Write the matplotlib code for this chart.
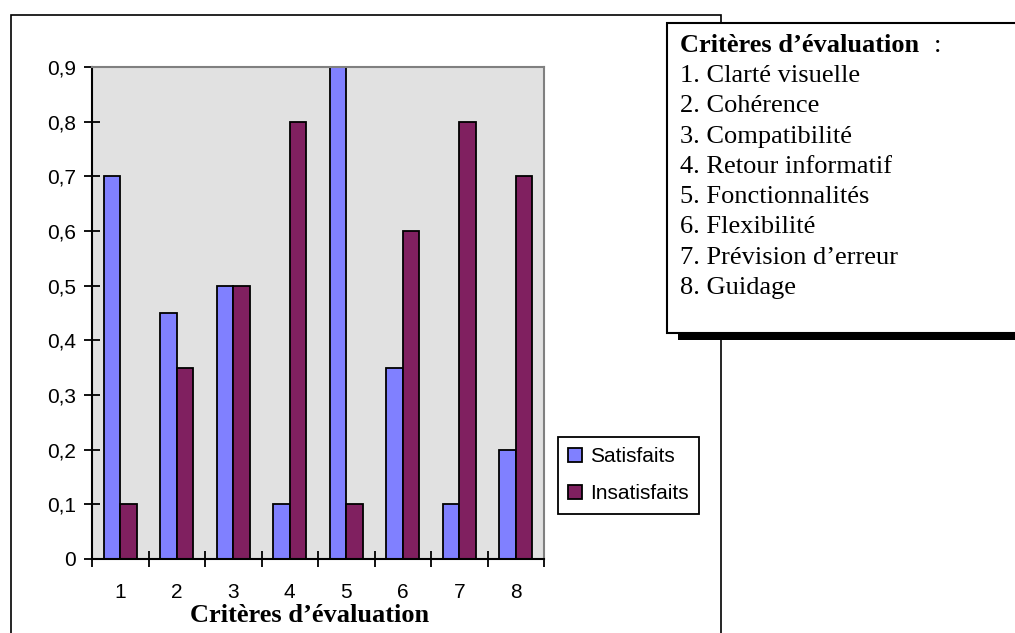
#!/usr/bin/env python3

import matplotlib
matplotlib.use('Agg')
import matplotlib.pyplot as plt
from matplotlib.patches import Rectangle
import numpy

# survey results per evaluation criterion
criteria = ['1', '2', '3', '4', '5', '6', '7', '8']
criteria_names = ['Clarté visuelle', 'Cohérence', 'Compatibilité',
                  'Retour informatif', 'Fonctionnalités', 'Flexibilité',
                  'Prévision d’erreur', 'Guidage']
satisfaits = [0.7, 0.45, 0.5, 0.1, 0.9, 0.35, 0.1, 0.2]
insatisfaits = [0.1, 0.35, 0.5, 0.8, 0.1, 0.6, 0.8, 0.7]
yticks = [0.0, 0.1, 0.2, 0.3, 0.4, 0.5, 0.6, 0.7, 0.8, 0.9]


def main():
  W, H = 1015, 633
  fig = plt.figure(figsize=(W / 100, H / 100), dpi=100)

  def px(x0, y0, x1, y1):
    # pixel box (top-left origin) to figure fraction rect
    return [x0 / W, 1 - y1 / H, (x1 - x0) / W, (y1 - y0) / H]

  # outer chart frame
  frame = Rectangle((11 / W, -0.1), (721 - 11) / W, 1.1 - 15 / H,
                    transform=fig.transFigure, fill=False,
                    edgecolor='black', linewidth=1.2, zorder=0)
  fig.patches.append(frame)

  #############################################################################
  # Bars
  #############################################################################
  ax = fig.add_axes(px(92, 67, 544, 559))
  ax.set_facecolor('#e1e1e1')
  x = numpy.arange(len(criteria))
  w = 0.29
  ax.bar(x - w / 2, satisfaits, w, color='#8080ff', edgecolor='black',
         linewidth=1.3, label='Satisfaits', zorder=2)
  ax.bar(x + w / 2, insatisfaits, w, color='#802060', edgecolor='black',
         linewidth=1.3, label='Insatisfaits', zorder=2)

  ax.set_xlim(-0.5, len(criteria) - 0.5)
  ax.set_ylim(0, 0.9)
  ax.set_yticks(yticks)
  ax.set_yticklabels([('%g' % v).replace('.', ',') for v in yticks],
                     fontsize=15, family='Liberation Sans')
  ax.set_xticks(x)
  ax.set_xticklabels(criteria, fontsize=15, family='Liberation Sans')
  ax.set_xticks(numpy.arange(len(criteria) + 1) - 0.5, minor=True)
  ax.tick_params(axis='x', which='major', length=0, pad=17)
  ax.tick_params(axis='x', which='minor', direction='inout', length=11,
                 width=1.3)
  ax.tick_params(axis='y', direction='inout', length=11, width=1.3, pad=6)

  for side in ['left', 'bottom']:
    ax.spines[side].set_linewidth(1.5)
    ax.spines[side].set_color('black')
  for side in ['top', 'right']:
    ax.spines[side].set_linewidth(1.5)
    ax.spines[side].set_color('#808080')

  fig.text(310 / W, 1 - 615 / H, 'Critères d’évaluation', ha='center',
           va='center', fontsize=19, fontweight='bold',
           family='Liberation Serif')

  leg = ax.legend(loc='upper left', bbox_to_anchor=(558 / W, 1 - 437 / H),
                  bbox_transform=fig.transFigure,
                  prop={'family': 'Liberation Sans', 'size': 15},
                  frameon=True, fancybox=False, edgecolor='black',
                  framealpha=1, borderaxespad=0,
                  handlelength=0.67, handleheight=0.67, handletextpad=0.35,
                  labelspacing=0.85, borderpad=0.5)
  leg.get_frame().set_linewidth(1.3)

  #############################################################################
  # Criteria list box
  #############################################################################
  shadow = Rectangle((678 / W, 1 - 340 / H), 0.5, (340 - 30) / H,
                     transform=fig.transFigure, facecolor='black',
                     edgecolor='none', zorder=5)
  box = Rectangle((667 / W, 1 - 333 / H), 0.5, (333 - 23) / H,
                  transform=fig.transFigure, facecolor='white',
                  edgecolor='black', linewidth=1.5, zorder=6)
  fig.patches.extend([shadow, box])

  fig.text(680 / W, 1 - 46 / H, 'Critères d’évaluation', ha='left',
           va='center', fontsize=19, fontweight='bold',
           family='Liberation Serif', zorder=7)
  fig.text(934 / W, 1 - 46 / H, ':', ha='left', va='center', fontsize=19,
           family='Liberation Serif', zorder=7)
  for i, name in enumerate(criteria_names):
    fig.text(680 / W, 1 - (76 + 30.3 * i) / H,
             '{0}. {1}'.format(criteria[i], name), ha='left', va='center',
             fontsize=19, family='Liberation Serif', zorder=7)

  fig.savefig('out.png', dpi=100)


if __name__ == '__main__':
  main()
